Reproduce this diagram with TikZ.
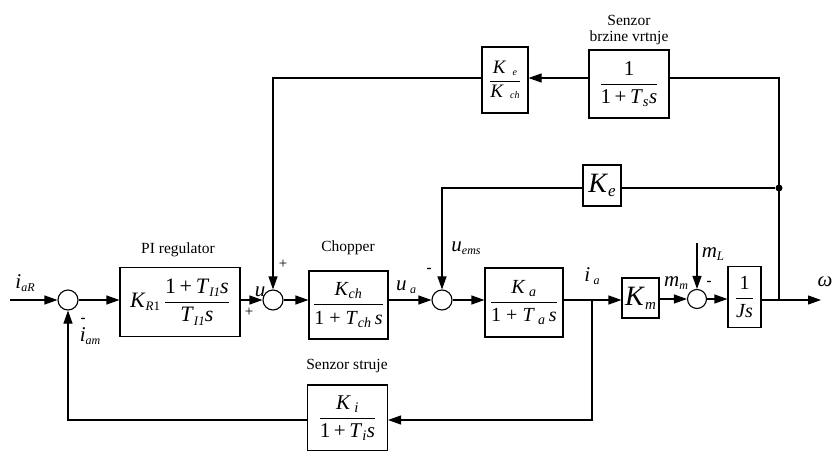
\documentclass[tikz,border=0pt]{standalone}
\usepackage{fontspec}
\setmainfont{Liberation Serif}
\usetikzlibrary{arrows.meta}
\newcommand\iv[1]{\textit{#1}}
\newcommand\sbs[1]{\textsubscript{\textit{#1}}}
\newcommand\fr[2]{$\displaystyle\frac{\mbox{#1}}{\mbox{#2}}$}
\begin{document}
\begin{tikzpicture}[x=1pt,y=-1pt,
  line width=1.1pt,
  sig/.style={-{Triangle[length=13pt,width=9pt]}},
  sumc/.style={draw,circle,minimum size=20pt,inner sep=0pt},
  blk/.style={draw,rectangle,inner sep=0pt,fill=white},
  lbl/.style={font=\fontsize{15.5}{17}\selectfont,inner sep=0pt},
  var/.style={font=\fontsize{21}{23}\selectfont,inner sep=0pt},
  sgn/.style={font=\fontsize{15}{16}\selectfont,inner sep=0pt}]
\useasboundingbox (0,0) rectangle (833,450);
% nodes
\node[sumc] (s1) at (68,300) {};
\node[blk,minimum width=120pt,minimum height=69pt,font=\fontsize{22}{24}\selectfont] (pi) at (180,302)
  {\iv{K}\raisebox{-0.35ex}{\fontsize{13}{14}\selectfont\iv{R}1}\,\fr{1\,+\,\iv{T}\raisebox{-0.35ex}{\fontsize{13}{14}\selectfont\iv{I1}}\iv{s}}{\iv{T}\raisebox{-0.35ex}{\fontsize{13}{14}\selectfont\iv{I1}}\iv{s}}};
\node[sumc] (s2) at (273,300) {};
\node[blk,minimum width=79pt,minimum height=68pt,font=\fontsize{20}{22}\selectfont] (ch) at (348.5,305)
  {\fr{\iv{K}\sbs{ch}}{1 + \iv{T}\sbs{ch}\,\iv{s}}};
\node[sumc] (s3) at (442,300) {};
\node[blk,minimum width=78pt,minimum height=69pt,font=\fontsize{20}{22}\selectfont] (ka) at (524,302.5)
  {\fr{\iv{K}\,\sbs{a}}{1 + \iv{T}\,\sbs{a}\,\iv{s}}};
\node[blk,minimum width=37pt,minimum height=40pt,font=\fontsize{28}{30}\selectfont] (km) at (640.5,298)
  {\iv{K}\raisebox{-0.3ex}{\fontsize{15}{16}\selectfont\iv{m}}};
\node[sumc,minimum size=19pt] (s4) at (697,299) {};
\node[blk,minimum width=33pt,minimum height=61pt,font=\fontsize{20}{22}\selectfont] (js) at (744.5,297)
  {\fr{1}{\iv{Js}}};
\node[blk,minimum width=80pt,minimum height=68pt,font=\fontsize{21}{23}\selectfont] (ts) at (629,84)
  {\fr{1}{1\,+\,\iv{T}\sbs{s}\iv{s}}};
\node[blk,minimum width=46pt,minimum height=66pt,font=\fontsize{19}{21}\selectfont] (kek) at (505,80)
  {\fr{\iv{K}\,\,\raisebox{-0.2ex}{\fontsize{10}{11}\selectfont\iv{e}}}{\iv{K}\,\,\raisebox{-0.2ex}{\fontsize{10}{11}\selectfont\iv{ch}}}};
\node[blk,minimum width=38pt,minimum height=41pt,font=\fontsize{28}{30}\selectfont] (ke) at (602,185.5)
  {\iv{K}\raisebox{-0.3ex}{\fontsize{17}{18}\selectfont\iv{e}}};
\node[blk,minimum width=80pt,minimum height=66pt,font=\fontsize{21}{23}\selectfont] (ki) at (347.5,418)
  {\fr{\iv{K}\,\sbs{i}}{1\,+\,\iv{T}\sbs{i}\iv{s}}};
% coordinates
\coordinate (in) at (10,300);
\coordinate (ia) at (592,300);
\coordinate (ib) at (592,420);
\coordinate (il) at (68,420);
\coordinate (w) at (779,300);
\coordinate (wt) at (779,78);
\coordinate (out) at (821,300);
\coordinate (ut) at (273,78);
\coordinate (et) at (442,188);
\coordinate (ml) at (697,243);
\node[circle,fill,inner sep=0pt,minimum size=7pt] (dot) at (779,188) {};
% connectors
\draw[sig] (in) -- (s1);
\draw[sig] (s1) -- (s1 -| pi.west);
\draw[sig] (s1 -| pi.east) -- (s2);
\draw[sig] (s2) -- (s2 -| ch.west);
\draw[sig] (s3 -| ch.east) -- (s3);
\draw[sig] (s3) -- (s3 -| ka.west);
\draw[sig] (ia -| ka.east) -- (ia -| km.west);
\draw[sig] (s4 -| km.east) -- (s4);
\draw[sig] (s4) -- (s4 -| js.west);
\draw[sig] (out -| js.east) -- (out);
\draw (w) -- (wt) -- (wt -| ts.east);
\draw[sig] (wt -| ts.west) -- (wt -| kek.east);
\draw[sig] (wt -| kek.west) -- (ut) -- (s2);
\draw (dot) -- (dot -| ke.east);
\draw[sig] (dot -| ke.west) -- (et) -- (s3);
\draw[sig] (ia) -- (ib) -- (ib -| ki.east);
\draw[sig] (ib -| ki.west) -- (il) -- (s1);
\draw[sig] (ml) -- (s4);
% labels
\node[var] at (25,283) {\iv{i}\raisebox{-0.3ex}{\fontsize{12}{13}\selectfont\iv{aR}}};
\node[lbl] at (178,250) {PI regulator};
\node[var] at (260,292) {\iv{u}};
\node[sgn] at (283,264) {+};
\node[sgn] at (249,312) {+};
\node[lbl] at (348,248) {Chopper};
\node[var] at (406,287) {\iv{u}\,\raisebox{-0.3ex}{\fontsize{12}{13}\selectfont\iv{a}}};
\node[sgn] at (429,270) {\textbf{-}};
\node[var] at (466,248) {\iv{u}\raisebox{-0.3ex}{\fontsize{12}{13}\selectfont\iv{ems}}};
\node[var] at (592,276) {\iv{i}\,\raisebox{-0.3ex}{\fontsize{12}{13}\selectfont\iv{a}}};
\node[var] at (676,283) {\iv{m}\raisebox{-0.3ex}{\fontsize{12}{13}\selectfont\iv{m}}};
\node[var] at (713,254) {\iv{m}\raisebox{-0.3ex}{\fontsize{13}{14}\selectfont\iv{L}}};
\node[sgn] at (709,283) {\textbf{-}};
\node[var,anchor=east] at (833,282) {\iv{ω}};
\node[sgn] at (83,320) {\textbf{-}};
\node[var] at (90,336) {\iv{i}\raisebox{-0.3ex}{\fontsize{12}{13}\selectfont\iv{am}}};
\node[lbl] at (629,20) {Senzor};
\node[lbl] at (629,38) {brzine vrtnje};
\node[lbl] at (347,366) {Senzor struje};
\end{tikzpicture}
\end{document}
